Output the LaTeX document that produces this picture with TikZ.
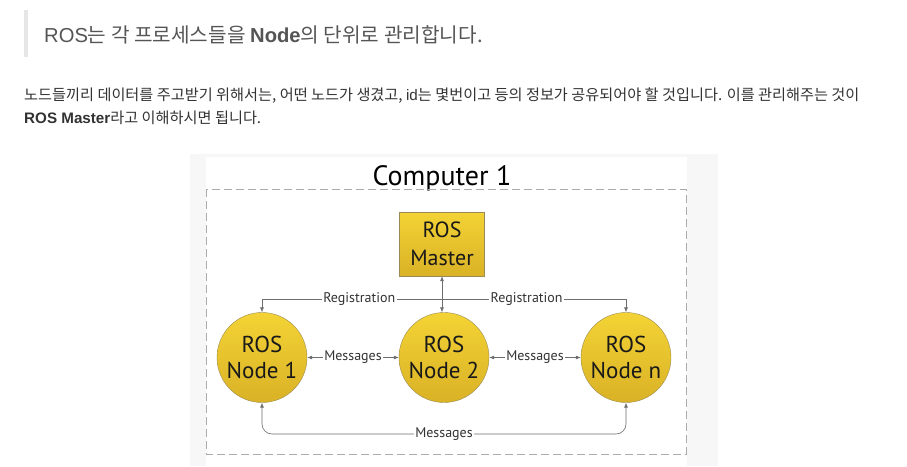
\documentclass[tikz,border=0pt]{standalone}
\usepackage{fontspec}
\setmainfont{Liberation Sans}
\newfontfamily\krfont{Noto Sans CJK KR}
\newfontfamily\dinfont{PT Sans}
\usepackage{xcolor}
\usetikzlibrary{arrows.meta,positioning,calc}

\definecolor{quotebar}{HTML}{E6E6E6}
\definecolor{quotetext}{HTML}{555555}
\definecolor{bodytext}{HTML}{333333}
\definecolor{rosyellow}{HTML}{F3D335}
\definecolor{rosyellowdark}{HTML}{DAB226}
\definecolor{rosedge}{HTML}{9A8B55}
\definecolor{linkgray}{HTML}{6E6E6E}
\definecolor{framegray}{HTML}{ABABAB}

\begin{document}
\begin{tikzpicture}[
    x=1pt,
    y=-1pt,
    >={Latex[length=5pt,width=4pt]},
    quote/.style={anchor=base west,inner sep=0pt,text=quotetext,
        font=\fontsize{20.2}{24}\selectfont},
    bodyline/.style={anchor=base west,inner sep=0pt,text=bodytext,
        font=\fontsize{15.2}{18}\selectfont},
    rosnode/.style={circle,minimum size=90pt,inner sep=0pt,draw=rosedge,
        top color=rosyellow,bottom color=rosyellowdark,align=center,
        text=black!90,font=\dinfont\fontsize{23}{26.5}\selectfont},
    masterbox/.style={rectangle,minimum width=85pt,minimum height=64pt,
        inner sep=0pt,draw=rosedge,top color=rosyellow,
        bottom color=rosyellowdark,align=center,text=black!90,
        font=\dinfont\fontsize{22}{28}\selectfont},
    link/.style={draw=linkgray,line width=0.6pt},
    linklabel/.style={fill=white,inner sep=1.5pt,text=black!80,
        font=\dinfont\fontsize{14}{16}\selectfont},
    frame/.style={draw=framegray,line width=0.9pt,
        dash pattern=on 8pt off 4pt}
]

\useasboundingbox (0,0) rectangle (907,466);
\fill[white] (0,0) rectangle (907,466);

% ---------------------------------------------------------
% Blog text
% ---------------------------------------------------------

\fill[quotebar] (24,10) rectangle (28,57);

\node[quote] (quoteline) at (44,42)
    {ROS{\krfont 는 각 프로세스들을 }{\bfseries Node}{\krfont 의 단위로 관리합니다.}};

\node[bodyline] (bodyone) at (24,100)
    {{\krfont 노드들끼리 데이터를 주고받기 위해서는, 어떤 노드가 생겼고, }id{\krfont 는 몇번이고 등의 정보가 공유되어야 할 것입니다. 이를 관리해주는 것이}};

\node[bodyline] (bodytwo) at (24,123)
    {{\bfseries ROS Master}{\krfont 라고 이해하시면 됩니다.}};

% ---------------------------------------------------------
% Diagram background and frame
% ---------------------------------------------------------

\fill[black!3] (190,154) rectangle (718,466);
\fill[white] (206,157) rectangle (687,466);

\node[anchor=base,inner sep=0pt,font=\dinfont\fontsize{28}{32}\selectfont]
    (title) at (442,185) {Computer 1};

\draw[frame] (206,189) rectangle (686,454);

% ---------------------------------------------------------
% Master and nodes
% ---------------------------------------------------------

\node[masterbox] (master) at (442,244) {ROS\\Master};

\node[rosnode] (n1) at (262,357.5) {ROS\\Node 1};
\node[rosnode] (n2) at (444,357.5) {ROS\\Node 2};
\node[rosnode] (nn) at (626,357.5) {ROS\\Node n};

% ---------------------------------------------------------
% Registration
% ---------------------------------------------------------

\coordinate (reg) at (442,299);

\draw[link,<->]
    (master.south) -- (master.south |- n2.north);

\draw[link,->]
    (reg) -| (n1)
    node[linklabel,pos=0.23] {Registration};

\draw[link,->]
    (reg) -| (nn)
    node[linklabel,pos=0.23] {Registration};

% ---------------------------------------------------------
% Messages
% ---------------------------------------------------------

\draw[link,<->]
    (n1) -- (n2)
    node[linklabel,midway] {Messages};

\draw[link,<->]
    (n2) -- (nn)
    node[linklabel,midway] {Messages};

\coordinate (bot) at (444,434);

\draw[link,<->,rounded corners=10pt]
    (n1) |- (bot)
    node[linklabel] {Messages}
    -| (nn);

\end{tikzpicture}
\end{document}
